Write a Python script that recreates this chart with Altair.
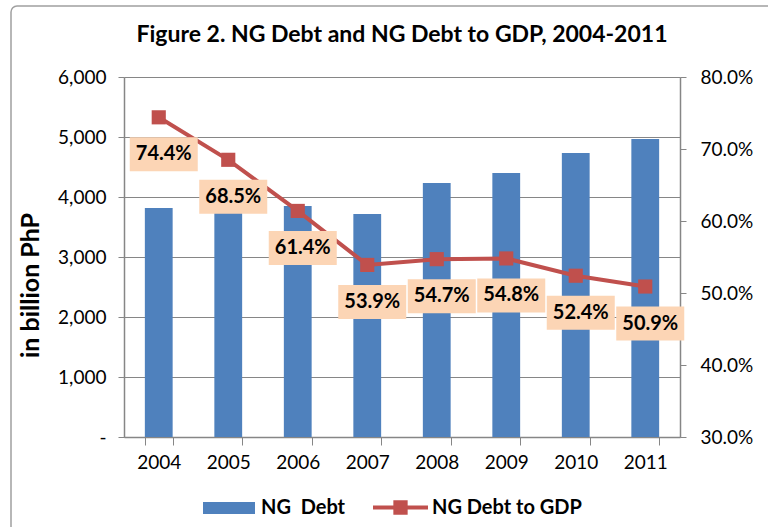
import altair as alt
import pandas as pd

# ---- data ----
years = ["2004", "2005", "2006", "2007", "2008", "2009", "2010", "2011"]
ng_debt = [3817, 3900, 3850, 3717, 4233, 4400, 4733, 4967]          # billion PhP
debt_to_gdp = [0.744, 0.685, 0.614, 0.539, 0.547, 0.548, 0.524, 0.509]
bar_name = "NG\u00a0 Debt"
line_name = "NG Debt to GDP"
left_ticks = [0, 1000, 2000, 3000, 4000, 5000, 6000]
right_ticks = [0.3, 0.4, 0.5, 0.6, 0.7, 0.8]

df = pd.DataFrame({
    "year": years,
    "debt": ng_debt,
    "ratio": debt_to_gdp,
    "s1": bar_name,
    "s2": line_name,
})
frame_df = pd.DataFrame({"k": [0]})

FONT = "Lato"
BLUE = "#4F81BD"
RED = "#C0504D"
PEACH = "#FCD5B5"
GRID = "#868686"
LAB_DY = 37
LAB_DX = 5
AX_FS = 19

x_enc = alt.X(
    "year:O", sort=years, title=None,
    scale=alt.Scale(paddingInner=0.6, paddingOuter=0.3),
    axis=alt.Axis(labelAngle=0, tickBand="extent", tickSize=8, labelPadding=8,
                  domainColor=GRID, tickColor=GRID, labelFontSize=AX_FS,
                  labelColor="#000000", labelFont=FONT, grid=False, domainWidth=1.5),
)

y_left = alt.Y(
    "debt:Q", scale=alt.Scale(domain=[0, 6000]),
    axis=alt.Axis(values=left_ticks,
                  labelExpr="datum.value == 0 ? '-' : format(datum.value, ',')",
                  title="in billion PhP", titleFontSize=25, titleFontWeight="bold",
                  titleFont=FONT, titleColor="#000000", titlePadding=14,
                  titleY=208,
                  grid=True, gridColor=GRID, gridWidth=1.2,
                  domainColor=GRID, tickColor=GRID, tickSize=6, domainWidth=1.5,
                  labelPadding=12, labelFontSize=AX_FS, labelFont=FONT,
                  labelColor="#000000"),
)

y_right = alt.Y(
    "ratio:Q", scale=alt.Scale(domain=[0.3, 0.8]),
    axis=alt.Axis(orient="right", values=right_ticks, format=".1%", title=None,
                  grid=False, domainColor=GRID, tickColor=GRID, tickSize=6,
                  domainWidth=1.5, labelPadding=14, labelFontSize=AX_FS,
                  labelFont=FONT, labelColor="#000000"),
)

frame = alt.Chart(frame_df).mark_rect(
    filled=False, stroke="#A0A0A0", strokeWidth=1.5, cornerRadius=6
).encode(x=alt.value(-113), x2=alt.value(700), y=alt.value(-71), y2=alt.value(500))

bars = alt.Chart(df).mark_bar().encode(
    x=x_enc,
    y=y_left,
    color=alt.Color(
        "s1:N", scale=alt.Scale(domain=[bar_name], range=[BLUE]),
        legend=alt.Legend(title=None, orient="none", legendX=79, legendY=405,
                          symbolType="M-1,-0.23H1V0.23H-1Z", symbolSize=2704,
                          symbolStrokeWidth=0, symbolOpacity=1,
                          labelFontSize=20, labelFontWeight="bold", labelFont=FONT,
                          labelColor="#000000", labelOffset=6, padding=0),
    ),
)

line = alt.Chart(df).mark_line(color=RED, strokeWidth=4).encode(x=x_enc, y=y_right)

squares = alt.Chart(df).mark_square(size=200, opacity=1).encode(
    x=x_enc,
    y=y_right,
    color=alt.Color(
        "s2:N", scale=alt.Scale(domain=[line_name], range=[RED]),
        legend=alt.Legend(title=None, orient="none", legendX=249, legendY=403,
                          symbolType="M-1,-0.07H1V0.07H-1Z M-0.26,-0.26H0.26V0.26H-0.26Z",
                          symbolSize=3025, symbolStrokeWidth=0, symbolOpacity=1,
                          labelFontSize=20, labelFontWeight="bold", labelFont=FONT,
                          labelColor="#000000", labelOffset=4, padding=0),
    ),
)

boxes = alt.Chart(df).mark_point(
    shape="M-1,-0.5H1V0.5H-1Z", size=4624, filled=True, color=PEACH, opacity=1,
    strokeWidth=0, yOffset=LAB_DY, xOffset=LAB_DX,
).encode(x=x_enc, y=y_right)

texts = alt.Chart(df).mark_text(
    font=FONT, fontSize=20, fontWeight="bold", color="#000000",
    baseline="middle", align="center", dy=LAB_DY, dx=LAB_DX,
).encode(x=x_enc, y=y_right, text=alt.Text("ratio:Q", format=".1%"))

right_layer = alt.layer(line, squares, boxes, texts)

chart = alt.layer(frame, bars, right_layer).resolve_scale(
    y="independent", color="independent"
).properties(
    width=556,
    height=360,
    title=alt.TitleParams(
        "Figure 2. NG Debt and NG Debt to GDP, 2004-2011",
        font=FONT, fontSize=23, fontWeight="bold", color="#000000",
        anchor="middle", frame="group", baseline="bottom", offset=0, dy=65,
    ),
    autosize=alt.AutoSizeParams(type="none"),
    padding={"left": 124, "top": 77, "right": 88, "bottom": 90},
).configure_view(strokeWidth=0).configure(background="white")

chart.save("out.html", embed_options={"renderer": "svg", "actions": False})
